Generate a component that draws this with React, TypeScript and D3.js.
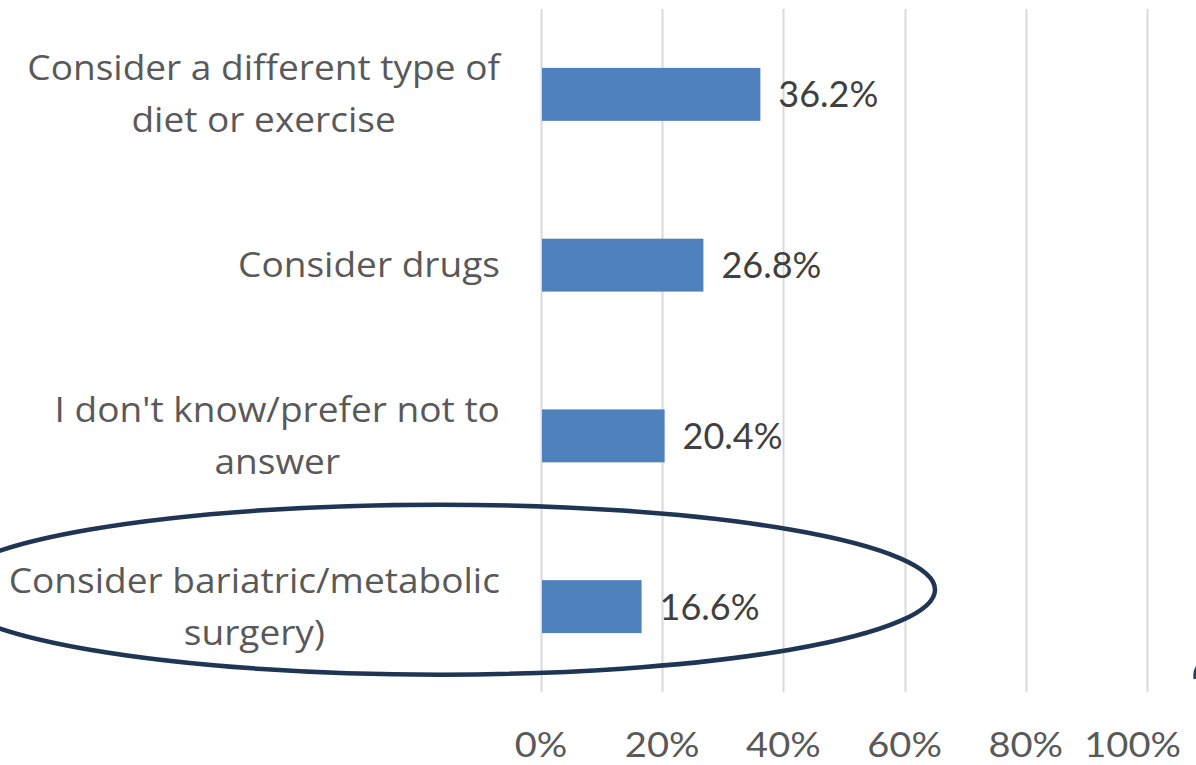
import React, { useEffect, useRef } from "react";
import * as d3 from "d3";

const categories: string[][] = [
  ["Consider a different type of", "diet or exercise"],
  ["Consider drugs"],
  ["I don't know/prefer not to", "answer"],
  ["Consider bariatric/metabolic", "surgery)"],
];
const values: number[] = [0.362, 0.268, 0.204, 0.166];
const valueLabels: string[] = ["36.2%", "26.8%", "20.4%", "16.6%"];
const ticks: number[] = [0, 0.2, 0.4, 0.6, 0.8, 1.0];
const tickLabels: string[] = ["0%", "20%", "40%", "60%", "80%", "100%"];

const W = 1196;
const H = 765;
const FONT = "Lato, 'Open Sans', sans-serif";
const CAT_FONT = "'Open Sans', Lato, sans-serif";
const CAT_STRETCH = 1.09;
const TICK_STRETCH = 1.12;
const TICK_RIGHT_LIMIT = 1181;

export default function App() {
  const ref = useRef<SVGSVGElement | null>(null);

  useEffect(() => {
    const svg = d3.select(ref.current);
    svg.selectAll("*").remove();

    const keys = categories.map((_, i) => String(i));
    const x = d3.scaleLinear().domain([0, 1]).range([541, 1147]);
    const y = d3
      .scaleBand<string>()
      .domain(keys)
      .range([9, 692])
      .paddingInner(0.69)
      .paddingOuter(0.345);

    // gridlines
    svg
      .append("g")
      .selectAll("line")
      .data(ticks)
      .join("line")
      .attr("x1", (d) => Math.round(x(d)) + 0.5)
      .attr("x2", (d) => Math.round(x(d)) + 0.5)
      .attr("y1", 9)
      .attr("y2", 692)
      .attr("stroke", "#d9d9d9")
      .attr("stroke-width", 2);

    // bars
    svg
      .append("g")
      .selectAll("rect")
      .data(values)
      .join("rect")
      .attr("x", x(0) + 1)
      .attr("y", (_, i) => y(keys[i])!)
      .attr("width", (d) => x(d) - x(0) - 1)
      .attr("height", y.bandwidth())
      .attr("fill", "#4f81bd");

    // value labels
    svg
      .append("g")
      .selectAll("text")
      .data(values)
      .join("text")
      .attr("x", (d) => x(d) + 18)
      .attr("y", (_, i) => y(keys[i])! + y.bandwidth() / 2 + 13)
      .attr("font-family", FONT)
      .attr("font-size", 36)
      .attr("fill", "#404040")
      .text((_, i) => valueLabels[i]);

    // tick labels (kept inside the chart area on the right)
    svg
      .append("g")
      .selectAll("text")
      .data(ticks)
      .join("text")
      .attr("text-anchor", "middle")
      .attr("font-family", FONT)
      .attr("font-size", 34)
      .attr("fill", "#595959")
      .text((_, i) => tickLabels[i])
      .each(function (d) {
        const el = this as SVGTextElement;
        const half = (el.getComputedTextLength() * TICK_STRETCH) / 2;
        const cx = Math.min(x(d), TICK_RIGHT_LIMIT - half);
        d3.select(el).attr("transform", `translate(${cx},757) scale(${TICK_STRETCH},1)`);
      });

    // category labels (lines centred within a right-aligned block)
    const catG = svg.append("g");
    categories.forEach((lines, i) => {
      const cy = y(keys[i])! + y.bandwidth() / 2;
      const g = catG.append("g");
      const texts = lines.map((line, j) =>
        g
          .append("text")
          .attr("x", 0)
          .attr("y", cy + (j - (lines.length - 1) / 2) * 52 + 12)
          .attr("text-anchor", "middle")
          .attr("font-family", CAT_FONT)
          .attr("font-size", 34)
          .attr("fill", "#595959")
          .text(line)
      );
      const widths = texts.map(
        (t) => (t.node() as SVGTextElement).getComputedTextLength() * CAT_STRETCH
      );
      const maxW = d3.max(widths) || 0;
      g.attr("transform", `translate(${500 - maxW / 2},0) scale(${CAT_STRETCH},1)`);
    });

    // annotation ellipse around last category
    const lastCy = y(keys[3])! + y.bandwidth() / 2;
    svg
      .append("ellipse")
      .attr("cx", 440)
      .attr("cy", lastCy - 17)
      .attr("rx", 495)
      .attr("ry", 85)
      .attr("fill", "none")
      .attr("stroke", "#1e3553")
      .attr("stroke-width", 4.5);

    // small cropped mark at right edge
    svg
      .append("path")
      .attr("d", "M1197,667 Q1194,672 1195,679")
      .attr("fill", "none")
      .attr("stroke", "#2a4060")
      .attr("stroke-width", 3);
  }, []);

  return (
    <svg
      ref={ref}
      width={W}
      height={H}
      style={{ position: "fixed", left: 0, top: 0, background: "#ffffff" }}
    />
  );
}
